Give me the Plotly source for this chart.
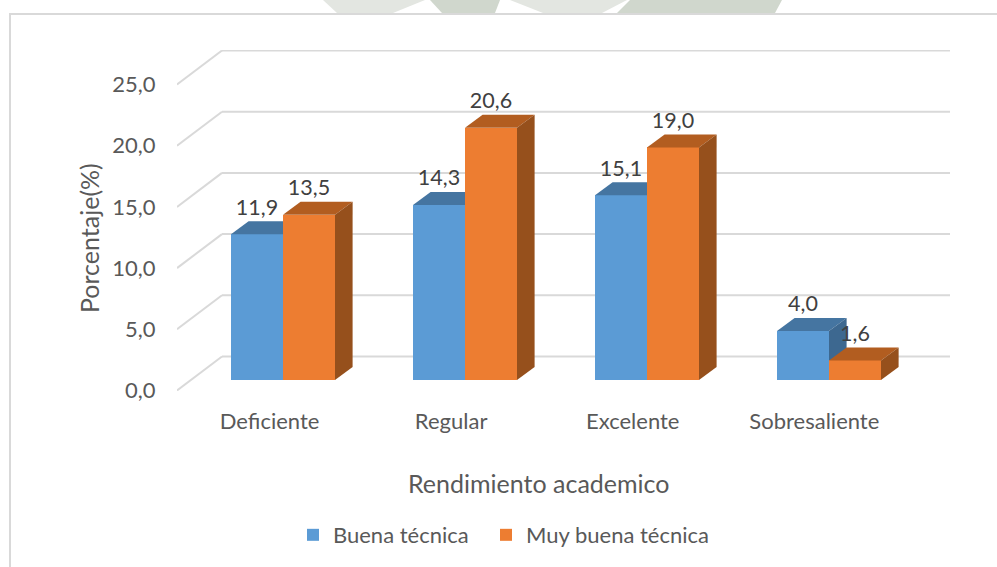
import plotly.graph_objects as go

categories = ["Deficiente", "Regular", "Excelente", "Sobresaliente"]
buena = [11.9, 14.3, 15.1, 4.0]
muy_buena = [13.5, 20.6, 19.0, 1.6]
y_ticks = [0, 5, 10, 15, 20, 25]
y_labels = ["0,0", "5,0", "10,0", "15,0", "20,0", "25,0"]

W, H = 997, 567
L, R, T, B = 177, 950, 50, 391
PX_X = 182.0
PX_Y = 12.24
X0 = 283
Y0 = 380
xr = [(L - X0) / PX_X, (R - X0) / PX_X]
yr = [(Y0 - B) / PX_Y, (Y0 - T) / PX_Y]
bar_w = 52.0 / PX_X
dx = 17.6 / PX_X
dy = 13.0 / PX_Y
front = (Y0 - 390.5) / PX_Y
wall_x = (222 - X0) / PX_X
wall_dy = (390.5 - 356.5) / PX_Y
label_dy = 25 / PX_Y

def pxx(p):
    return (p - L) / (R - L)

def pxy(p):
    return (B - p) / (B - T)

GRID = "#D9D9D9"
FONT = "Lato"
fig = go.Figure()
idx = list(range(len(categories)))

shapes = []
# faint page watermark above the frame
for color, pts in [
    ("#E3E6E1", [(323, 0), (337, 13), (393, 13), (425, 0)]),
    ("#D0D7CD", [(430, 0), (442, 13), (495, 13), (500, 0)]),
    ("#E3E6E1", [(510, 0), (543, 13), (602, 13), (627, 0)]),
    ("#D0D7CD", [(630, 0), (617, 13), (775, 13), (782, 0)]),
]:
    shapes.append(dict(type="path", xref="paper", yref="paper", layer="below",
                       path="M" + " L".join(f"{pxx(a)},{pxy(b)}" for a, b in pts) + " Z",
                       fillcolor=color, line=dict(width=0)))
for v in y_ticks:
    shapes.append(dict(type="line", xref="x", yref="y", layer="below",
                       x0=xr[0], y0=v + front, x1=wall_x, y1=v + front + wall_dy,
                       line=dict(color=GRID, width=2)))
    shapes.append(dict(type="line", xref="x", yref="y", layer="below",
                       x0=wall_x, y0=v + front + wall_dy, x1=xr[1], y1=v + front + wall_dy,
                       line=dict(color=GRID, width=2)))
# chart frame
shapes.append(dict(type="path", xref="paper", yref="paper", layer="below",
                   path=f"M{pxx(10)},{pxy(567)} L{pxx(10)},{pxy(14)} L{pxx(997)},{pxy(14)}",
                   line=dict(color=GRID, width=2)))

def faces(x_left, values, top_color, side_color, xa, ya):
    for x, v in zip(x_left, values):
        xr_ = x + bar_w
        fig.add_trace(go.Scatter(x=[x, x + dx, xr_ + dx, xr_, x], y=[v, v + dy, v + dy, v, v],
                                 fill="toself", fillcolor=top_color, mode="none",
                                 hoverinfo="skip", showlegend=False, xaxis=xa, yaxis=ya))
        fig.add_trace(go.Scatter(x=[xr_, xr_ + dx, xr_ + dx, xr_, xr_], y=[0, dy, v + dy, v, 0],
                                 fill="toself", fillcolor=side_color, mode="none",
                                 hoverinfo="skip", showlegend=False, xaxis=xa, yaxis=ya))

# blue group on the base axes
fig.add_trace(go.Bar(name="Buena técnica", x=idx, y=buena, width=bar_w, offset=-bar_w,
                     marker=dict(color="#5B9BD5", line=dict(width=0)), xaxis="x", yaxis="y",
                     legend="legend", showlegend=True))
faces([i - bar_w for i in idx], buena, "#4575A1", "#3D6890", "x", "y")
# orange group on an overlaid pair of axes, so it paints above the blue faces
fig.add_trace(go.Bar(name="Muy buena técnica", x=idx, y=muy_buena, width=bar_w, offset=0,
                     marker=dict(color="#ED7D31", line=dict(width=0)), xaxis="x2", yaxis="y2",
                     legend="legend2", showlegend=True))
faces(idx, muy_buena, "#B25D20", "#96501C", "x2", "y2")

# data labels
fig.add_trace(go.Scatter(x=[i - bar_w / 2 for i in idx] + [i + bar_w / 2 for i in idx],
                         y=[v + label_dy for v in buena] + [v + label_dy for v in muy_buena],
                         text=[f"{v:.1f}".replace(".", ",") for v in buena + muy_buena],
                         mode="text", textposition="middle center",
                         textfont=dict(family=FONT, size=21.5, color="#404040"),
                         hoverinfo="skip", showlegend=False, cliponaxis=False,
                         xaxis="x2", yaxis="y2"))

annotations = [
    dict(text="Porcentaje(%)", xref="paper", yref="paper", x=pxx(89), y=pxy(238),
         textangle=-90, showarrow=False, xanchor="center", yanchor="middle",
         font=dict(family=FONT, size=25, color="#595959")),
    dict(text="Rendimiento academico", xref="paper", yref="paper", x=pxx(538), y=pxy(483),
         showarrow=False, xanchor="center", yanchor="middle",
         font=dict(family=FONT, size=25, color="#595959")),
]

legend_style = dict(orientation="h", xref="container", yref="container", y=0.0564,
                    xanchor="left", yanchor="middle",
                    font=dict(family=FONT, size=22, color="#595959"), bgcolor="rgba(0,0,0,0)")

fig.update_layout(
    width=W, height=H, autosize=False,
    margin=dict(l=L, r=W - R, t=T, b=H - B, pad=0),
    paper_bgcolor="white", plot_bgcolor="rgba(0,0,0,0)",
    barmode="overlay", bargap=0, shapes=shapes, annotations=annotations,
    xaxis=dict(range=xr, tickmode="array", tickvals=[i * 181.6 / PX_X - 0.074 for i in idx],
               ticktext=categories,
               showgrid=False, zeroline=False, showline=False, ticks="outside", ticklen=11,
               tickcolor="rgba(0,0,0,0)", tickfont=dict(family=FONT, size=22, color="#595959")),
    yaxis=dict(range=yr, tickmode="array", tickvals=[v + front for v in y_ticks], ticktext=y_labels,
               showgrid=False, zeroline=False, showline=False, ticks="outside", ticklen=16,
               tickcolor="rgba(0,0,0,0)", tickfont=dict(family=FONT, size=22, color="#595959")),
    xaxis2=dict(range=xr, overlaying="x", anchor="y2", visible=False),
    yaxis2=dict(range=yr, overlaying="y", anchor="x2", visible=False),
    legend=dict(x=293 / W, **legend_style),
    legend2=dict(x=486 / W, **legend_style),
)
fig.write_html("out.html", config={"displayModeBar": False},
               post_script="document.body.style.margin='0';document.body.style.overflow='hidden';")
